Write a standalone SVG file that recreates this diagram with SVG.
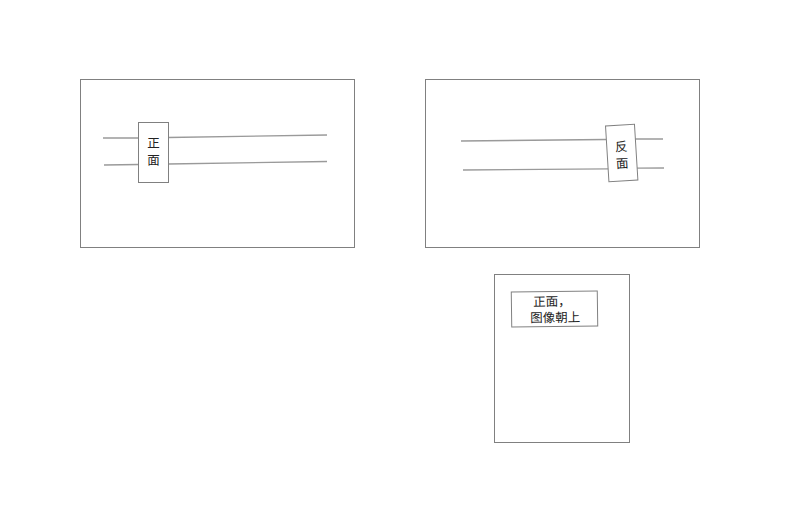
<svg xmlns="http://www.w3.org/2000/svg" width="786" height="505" viewBox="0 0 786 505">
<style>
.frame{fill:#fff;stroke:#808080;stroke-width:1}
.wire{fill:none;stroke:#9a9a9a;stroke-width:1.3}
.tag{fill:#fff;stroke:#808080;stroke-width:1}
text{font-family:"Liberation Sans","Noto Sans CJK SC",sans-serif;font-size:12.5px;fill:#222;text-anchor:middle}
</style>
<rect width="786" height="505" fill="#fff"/>
<g id="panel-front"><rect class="frame" x="80.5" y="79.5" width="274" height="168"/></g>
<g id="panel-back"><rect class="frame" x="425.5" y="79.5" width="274" height="168"/></g>
<g id="panel-page"><rect class="frame" x="494.5" y="274.5" width="135" height="168"/></g>
<g id="connectors">
<path class="wire" d="M103,138 L139,138 M168,137.5 L327,135"/>
<path class="wire" d="M104,165 L139,164.5 M168,164 L327,161.5"/>
<path class="wire" d="M461,141 L606,139.5 M635,139 L663,139"/>
<path class="wire" d="M463,170 L609,168.8 M636,168.2 L664,168"/>
</g>
<g id="label-front">
<rect class="tag" x="138.5" y="122.5" width="30" height="60"/>
<text x="153.5" y="148">正</text>
<text x="153.5" y="165">面</text>
</g>
<g id="label-back" transform="rotate(-3.5 621.7 153)">
<rect class="tag" x="607.2" y="125" width="29" height="56"/>
<text x="621.7" y="151">反</text>
<text x="621.7" y="168">面</text>
</g>
<g id="label-page" transform="rotate(-0.8 554.5 309)">
<rect class="tag" x="511.5" y="291.5" width="86" height="35"/>
<text x="552" y="306">正面，</text>
<text x="555" y="322">图像朝上</text>
</g>
</svg>
